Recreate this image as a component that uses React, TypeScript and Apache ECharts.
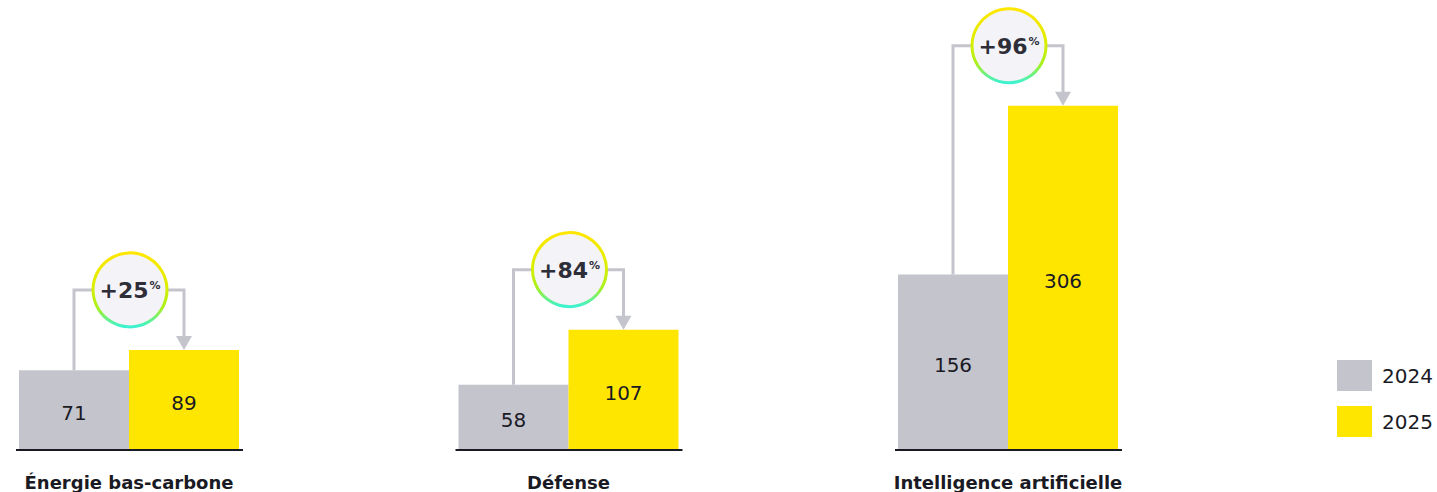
import React, { useEffect, useRef } from "react";
import * as echarts from "echarts";

// Categories and yearly values
const categories = ["Énergie bas-carbone", "Défense", "Intelligence artificielle"];
const values2024 = [71, 58, 156];
const values2025 = [89, 107, 306];
const growthPct = [25, 84, 96];
const seriesNames = ["2024", "2025"];

const GRAY = "#c4c4cd";
const YELLOW = "#ffe600";
const INK = "#1a1a24";
const DARK = "#2e2e38";
const FONT = "'DejaVu Sans', sans-serif";
const BAR_W = 110;

export default function App() {
  const ref = useRef<HTMLDivElement>(null);

  useEffect(() => {
    const chart = echarts.init(ref.current!, null, { renderer: "svg" });

    const ringGradient = new echarts.graphic.LinearGradient(0, 0, 0, 1, [
      { offset: 0, color: "#ffe600" },
      { offset: 0.45, color: "#dcee00" },
      { offset: 0.75, color: "#a8f020" },
      { offset: 1, color: "#3cf2d2" },
    ]);

    // Baseline per group, connector from the 2024 bar to the 2025 bar, growth badge
    const renderItem = (params: any, api: any) => {
      const i = api.value(0);
      const [cx, yBase] = api.coord([i, 0]);
      const y24 = api.coord([i, api.value(1)])[1];
      const y25 = api.coord([i, api.value(2)])[1];
      const pct = api.value(3);
      const gx = cx - BAR_W / 2;
      const yx = cx + BAR_W / 2;
      const lineY = y25 - 60;
      const R = 37;
      const ccx = cx + 1;
      const conn = { stroke: GRAY, lineWidth: 3, fill: null };
      return {
        type: "group",
        children: [
          {
            type: "line",
            shape: { x1: cx - 113, y1: yBase, x2: cx + 114, y2: yBase },
            style: { stroke: INK, lineWidth: 2 },
          },
          {
            type: "polyline",
            shape: { points: [[gx, y24], [gx, lineY], [ccx - R, lineY]] },
            style: conn,
          },
          {
            type: "polyline",
            shape: { points: [[ccx + R, lineY], [yx, lineY], [yx, y25 - 13]] },
            style: conn,
          },
          {
            type: "polygon",
            shape: { points: [[yx - 8, y25 - 14], [yx + 8, y25 - 14], [yx, y25]] },
            style: { fill: GRAY },
          },
          {
            type: "circle",
            shape: { cx: ccx, cy: lineY, r: R },
            style: { fill: "#f4f4f8", stroke: ringGradient, lineWidth: 3 },
          },
          {
            type: "text",
            x: ccx,
            y: lineY + 1,
            style: {
              text: `{a|+${pct}}{b|%}`,
              align: "center",
              verticalAlign: "middle",
              rich: {
                a: { fontSize: 22, fontWeight: "bold", fontFamily: FONT, fill: DARK, color: DARK },
                b: {
                  fontSize: 11,
                  fontWeight: "bold",
                  fontFamily: FONT,
                  fill: DARK,
                  color: DARK,
                  padding: [0, 0, 10, 1],
                },
              },
            },
          },
        ],
      };
    };

    chart.setOption({
      animation: false,
      backgroundColor: "#ffffff",
      grid: { left: 129, right: 429, top: 0, bottom: 42 },
      xAxis: {
        type: "category",
        data: categories,
        boundaryGap: false,
        axisLine: { show: false },
        axisTick: { show: false },
        splitLine: { show: false },
        axisLabel: {
          interval: 0,
          margin: 23,
          fontFamily: FONT,
          fontWeight: "bold",
          fontSize: 18,
          color: INK,
        },
      },
      yAxis: { type: "value", min: 0, max: 400, show: false },
      legend: {
        data: seriesNames,
        orient: "vertical",
        left: 1332,
        top: 355,
        icon: "rect",
        itemWidth: 35,
        itemHeight: 31,
        itemGap: 15,
        textStyle: { fontFamily: FONT, fontSize: 20, color: INK, padding: [0, 0, 0, 5] },
      },
      series: [
        {
          name: seriesNames[0],
          type: "bar",
          data: values2024,
          barWidth: BAR_W,
          barGap: "0%",
          itemStyle: { color: GRAY },
          label: {
            show: true,
            position: "inside",
            offset: [0, 3],
            fontFamily: FONT,
            fontSize: 20,
            color: INK,
          },
        },
        {
          name: seriesNames[1],
          type: "bar",
          data: values2025,
          barWidth: BAR_W,
          barGap: "0%",
          itemStyle: { color: YELLOW },
          label: {
            show: true,
            position: "inside",
            offset: [0, 3],
            fontFamily: FONT,
            fontSize: 20,
            color: INK,
          },
        },
        {
          type: "custom",
          renderItem,
          data: categories.map((_, i) => [i, values2024[i], values2025[i], growthPct[i]]),
          encode: { x: 0, y: [1, 2] },
          z: 5,
          silent: true,
          clip: false,
        },
      ],
    });

    return () => chart.dispose();
  }, []);

  return (
    <div
      ref={ref}
      style={{ position: "fixed", left: 0, top: 0, width: 1437, height: 492 }}
    />
  );
}
